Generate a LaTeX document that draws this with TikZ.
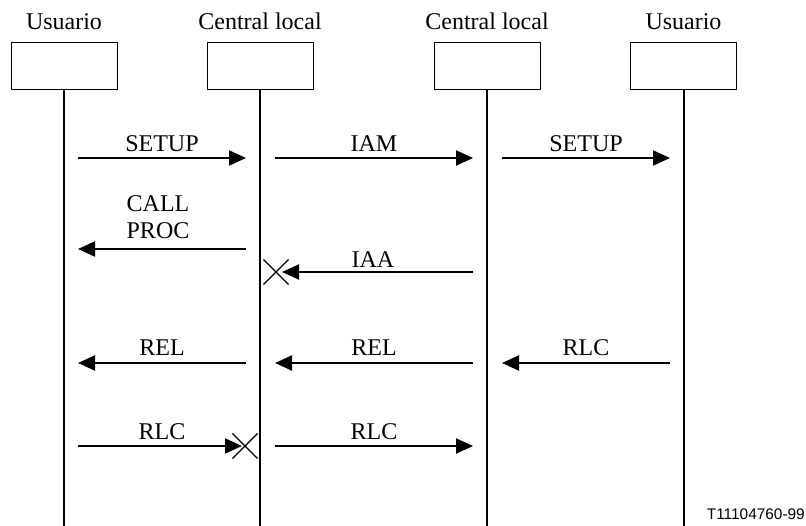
\documentclass[tikz,border=0pt]{standalone}
\usepackage{fontspec}
\setmainfont{Liberation Serif}
\newfontfamily\figsans{Liberation Sans}
\usetikzlibrary{arrows.meta,shapes.misc}
\begin{document}
\begin{tikzpicture}[x=1pt,y=-1pt,
  entity/.style={draw,line width=1pt,minimum width=106pt,minimum height=47pt,inner sep=0pt},
  title/.style={anchor=base,font=\fontsize{24}{27}\selectfont,inner sep=0pt},
  lifeline/.style={line width=2pt},
  msg/.style={line width=2pt,-{Triangle[length=17pt,width=15pt]}},
  msglabel/.style={anchor=base,font=\fontsize{24}{27}\selectfont,inner sep=0pt,align=center},
  lost/.style={cross out,draw,line width=1.2pt,minimum size=24pt,inner sep=0pt}]
\useasboundingbox (0,0) rectangle (806,526);

% entities and their titles
\node[entity] (u1) at (64,66.5) {};
\node[entity] (c1) at (260,66.5) {};
\node[entity] (c2) at (487,66.5) {};
\node[entity] (u2) at (683.5,66.5) {};
\node[title] (t1) at (64,30) {Usuario};
\node[title] (t2) at (260,30) {Central local};
\node[title] (t3) at (487,30) {Central local};
\node[title] (t4) at (683.5,30) {Usuario};

% lifelines
\coordinate (e1) at (64,526);
\coordinate (e2) at (260,526);
\coordinate (e3) at (487,526);
\coordinate (e4) at (683.5,526);
\draw[lifeline] (u1.south) -- (e1);
\draw[lifeline] (c1.south) -- (e2);
\draw[lifeline] (c2.south) -- (e3);
\draw[lifeline] (u2.south) -- (e4);

% SETUP / IAM / SETUP
\coordinate (a1) at (78,158);  \coordinate (a2) at (246,158);
\coordinate (a3) at (275,158); \coordinate (a4) at (473,158);
\coordinate (a5) at (502,158); \coordinate (a6) at (670,158);
\draw[msg] (a1) -- (a2);
\draw[msg] (a3) -- (a4);
\draw[msg] (a5) -- (a6);
\node[msglabel] (m1) at (162,152) {SETUP};
\node[msglabel] (m2) at (374,152) {IAM};
\node[msglabel] (m3) at (586,152) {SETUP};

% CALL PROC (base anchor sits on the last line)
\coordinate (b1) at (246,249); \coordinate (b2) at (78,249);
\draw[msg] (b1) -- (b2);
\node[msglabel] (m4) at (158,239) {CALL\\PROC};

% IAA, lost at the local exchange
\coordinate (c3) at (473,272);
\node[lost] (x1) at (276,272) {};
\coordinate (c4) at (282,272);
\draw[msg] (c3) -- (c4);
\node[msglabel] (m5) at (373,268) {IAA};

% REL / REL / RLC
\coordinate (d1) at (246,363); \coordinate (d2) at (78,363);
\coordinate (d3) at (473,363); \coordinate (d4) at (275,363);
\coordinate (d5) at (670,363); \coordinate (d6) at (502,363);
\draw[msg] (d1) -- (d2);
\draw[msg] (d3) -- (d4);
\draw[msg] (d5) -- (d6);
\node[msglabel] (m6) at (162,356) {REL};
\node[msglabel] (m7) at (374,356) {REL};
\node[msglabel] (m8) at (586,356) {RLC};

% RLC, first one lost
\coordinate (f1) at (78,446);
\node[lost] (x2) at (245,446) {};
\coordinate (f2) at (242,446);
\coordinate (f3) at (275,446); \coordinate (f4) at (473,446);
\draw[msg] (f1) -- (f2);
\draw[msg] (f3) -- (f4);
\node[msglabel] (m9) at (162,439) {RLC};
\node[msglabel] (m10) at (374,439) {RLC};

% figure reference
\node[anchor=base east,inner sep=0pt,font=\figsans\fontsize{15.4}{18}\selectfont] (ref) at (805,519) {T11104760-99};
\end{tikzpicture}
\end{document}
